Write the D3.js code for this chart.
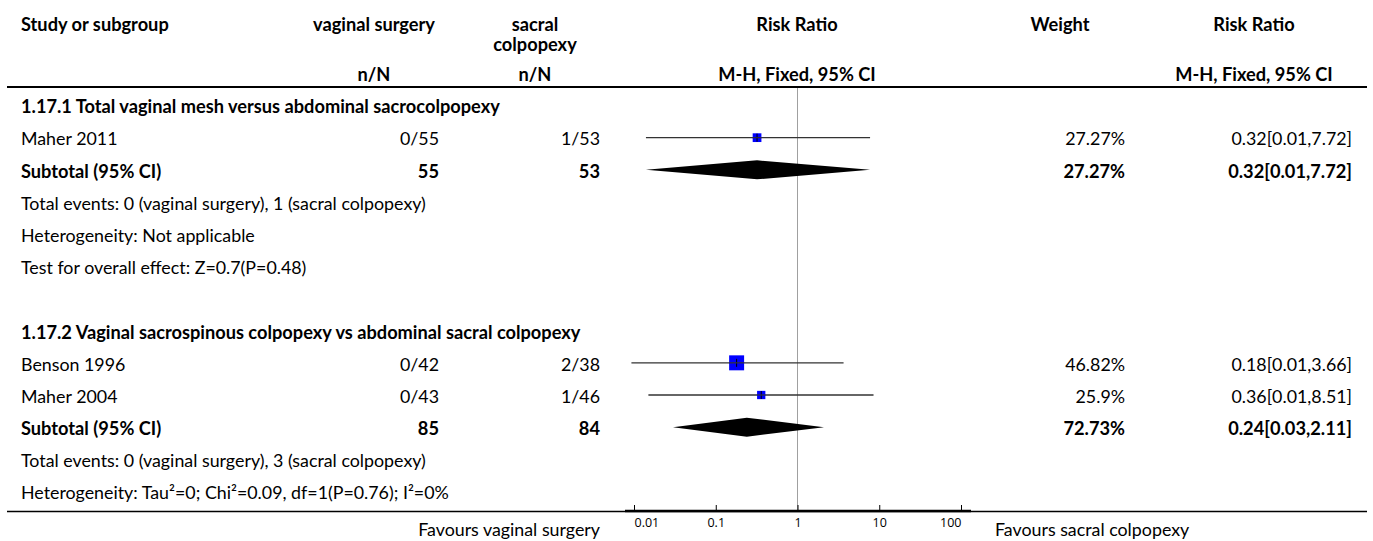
<!DOCTYPE html>
<html>
<head>
<meta charset="utf-8">
<script src="https://cdn.jsdelivr.net/npm/d3@7"></script>
<style>
  html, body { margin: 0; padding: 0; background: #fff; }
  svg { display: block; }
</style>
</head>
<body>
<div id="chart"></div>
<script>
// ---------------- DATA ----------------
const rowText = [
  "1.17.1 Total vaginal mesh versus abdominal sacrocolpopexy",
  "Maher 2011",
  "Subtotal (95% CI)",
  "Total events: 0 (vaginal surgery), 1 (sacral colpopexy)",
  "Heterogeneity: Not applicable",
  "Test for overall effect: Z=0.7(P=0.48)",
  "",
  "1.17.2 Vaginal sacrospinous colpopexy vs abdominal sacral colpopexy",
  "Benson 1996",
  "Maher 2004",
  "Subtotal (95% CI)",
  "Total events: 0 (vaginal surgery), 3 (sacral colpopexy)",
  "Heterogeneity: Tau\u00b2=0; Chi\u00b2=0.09, df=1(P=0.76); I\u00b2=0%"
];
const rowKind = ["group","study","subtotal","note","note","note","blank","group","study","study","subtotal","note","note"];
const expText  = [null,"0/55","55",null,null,null,null,null,"0/42","0/43","85",null,null];
const ctrlText = [null,"1/53","53",null,null,null,null,null,"2/38","1/46","84",null,null];
const rrValue  = [null,0.32,0.32,null,null,null,null,null,0.18,0.36,0.24,null,null];
const ciLow    = [null,0.014,0.014,null,null,null,null,null,0.0093,0.015,0.03,null,null];
const ciHigh   = [null,7.72,7.72,null,null,null,null,null,3.66,8.51,2.11,null,null];
const weightPct = [null,27.27,27.27,null,null,null,null,null,46.82,25.9,72.73,null,null];
const weightText = [null,"27.27%","27.27%",null,null,null,null,null,"46.82%","25.9%","72.73%",null,null];
const rrText   = [null,"0.32[0.01,7.72]","0.32[0.01,7.72]",null,null,null,null,null,"0.18[0.01,3.66]","0.36[0.01,8.51]","0.24[0.03,2.11]",null,null];

const tickValues = [0.01, 0.1, 1, 10, 100];
const tickLabels = ["0.01", "0.1", "1", "10", "100"];
const favoursLeft = "Favours vaginal surgery";
const favoursRight = "Favours sacral colpopexy";

// ---------------- LAYOUT ----------------
const W = 1373, H = 541;
const FONT = "Lato, 'Open Sans', sans-serif";
const TICKFONT = "'Open Sans', sans-serif";

const svg = d3.select("#chart").append("svg")
  .attr("width", W).attr("height", H)
  .attr("viewBox", `0 0 ${W} ${H}`);

// fit font sizes to reference text widths
const probe = svg.append("text").attr("font-family", FONT).attr("font-size", 20).text(rowText[3]);
const FS = 20 * 405 / probe.node().getComputedTextLength();
probe.attr("font-weight", "bold").text(rowText[7]);
const FSB = 20 * 560 / probe.node().getComputedTextLength();
probe.remove();

const leftX = 21;
const col1Center = 374, col1Right = 439;
const col2Center = 535, col2Right = 600;
const rrCenter = 797;
const wCenter = 1060, wRight = 1125;
const rrtCenter = 1254, rrtRight = 1352;

const lineL = 7, lineR = 1367;
const headerLineY = 87;
const axisY = 511;

const rowY = d3.scaleLinear().domain([0, rowText.length - 1]).range([107, 493]);
const x = d3.scaleLog().domain([0.01, 100]).range([634, 961]);
const sizeScale = d3.scaleLinear().domain([0, 100]).range([0, 32]);

function txt(g, xx, yy, s, anchor, bold, fs, fam) {
  return g.append("text")
    .attr("x", xx).attr("y", yy)
    .attr("dy", "0.35em")
    .attr("text-anchor", anchor || "start")
    .attr("font-family", fam || FONT)
    .attr("font-size", fs || (bold ? FSB : FS))
    .attr("font-weight", bold ? "bold" : "normal")
    .attr("fill", "#000")
    .text(s);
}

// ---------------- HEADER ----------------
const head = svg.append("g");
txt(head, leftX, 25, "Study or subgroup", "start", true);
txt(head, col1Center, 25, "vaginal surgery", "middle", true);
txt(head, col2Center, 25, "sacral", "middle", true);
txt(head, col2Center, 45, "colpopexy", "middle", true);
txt(head, rrCenter, 25, "Risk Ratio", "middle", true);
txt(head, wCenter, 25, "Weight", "middle", true);
txt(head, rrtCenter, 25, "Risk Ratio", "middle", true);
txt(head, col1Center, 75, "n/N", "middle", true);
txt(head, col2Center, 75, "n/N", "middle", true);
txt(head, rrCenter, 75, "M-H, Fixed, 95% CI", "middle", true);
txt(head, rrtCenter, 75, "M-H, Fixed, 95% CI", "middle", true);

svg.append("line")
  .attr("x1", lineL).attr("x2", lineR)
  .attr("y1", headerLineY).attr("y2", headerLineY)
  .attr("stroke", "#000").attr("stroke-width", 2);

// vertical no-effect line
svg.append("line")
  .attr("x1", x(1)).attr("x2", x(1))
  .attr("y1", headerLineY + 1).attr("y2", axisY)
  .attr("stroke", "#a0a0a0").attr("stroke-width", 1);

// ---------------- ROWS ----------------
const body = svg.append("g");
rowText.forEach((t, i) => {
  const y = rowY(i);
  const kind = rowKind[i];
  const bold = kind === "group" || kind === "subtotal";
  if (t) txt(body, leftX, y, t, "start", bold);
  if (expText[i]) txt(body, col1Right, y, expText[i], "end", kind === "subtotal");
  if (ctrlText[i]) txt(body, col2Right, y, ctrlText[i], "end", kind === "subtotal");
  if (weightText[i]) txt(body, wRight, y, weightText[i], "end", kind === "subtotal");
  if (rrText[i]) txt(body, rrtRight, y, rrText[i], "end", kind === "subtotal");

  const my = y - 1.5;
  if (kind === "study") {
    body.append("line")
      .attr("x1", x(ciLow[i])).attr("x2", x(ciHigh[i]))
      .attr("y1", my).attr("y2", my)
      .attr("stroke", "#333").attr("stroke-width", 1.3);
    const s = sizeScale(weightPct[i]);
    body.append("rect")
      .attr("x", x(rrValue[i]) - s / 2).attr("y", my - s / 2)
      .attr("width", s).attr("height", s)
      .attr("fill", "#0000ff");
    body.append("line")
      .attr("x1", x(rrValue[i])).attr("x2", x(rrValue[i]))
      .attr("y1", my - 4).attr("y2", my + 4)
      .attr("stroke", "#000").attr("stroke-width", 1);
    body.append("line")
      .attr("x1", x(rrValue[i]) - s / 2).attr("x2", x(rrValue[i]) + s / 2)
      .attr("y1", my).attr("y2", my)
      .attr("stroke", "#333").attr("stroke-width", 1.2);
  } else if (kind === "subtotal") {
    const pts = [
      [x(ciLow[i]), my],
      [x(rrValue[i]), my - 9.5],
      [x(ciHigh[i]), my],
      [x(rrValue[i]), my + 9.5]
    ];
    body.append("path")
      .attr("d", d3.line()(pts) + "Z")
      .attr("fill", "#000");
  }
});

// ---------------- AXIS ----------------
svg.append("line")
  .attr("x1", lineL).attr("x2", lineR)
  .attr("y1", axisY + 0.5).attr("y2", axisY + 0.5)
  .attr("stroke", "#000").attr("stroke-width", 1.5);
svg.append("line")
  .attr("x1", x.range()[0] - 9).attr("x2", x.range()[1] + 10)
  .attr("y1", axisY).attr("y2", axisY)
  .attr("stroke", "#000").attr("stroke-width", 2.5);

const axis = d3.axisBottom(x)
  .tickValues(tickValues)
  .tickFormat((d, i) => tickLabels[i])
  .tickSize(-6)
  .tickPadding(14);
const ag = svg.append("g").attr("transform", `translate(0,${axisY})`).call(axis);
ag.select(".domain").remove();
ag.selectAll(".tick line").attr("stroke", "#000").attr("stroke-width", 1);
ag.selectAll(".tick text")
  .attr("font-family", TICKFONT)
  .attr("font-size", 12.5)
  .attr("fill", "#000")
  .attr("y", 12)
  .attr("dy", "0.35em")
  .attr("text-anchor", (d, i) => i === 0 ? "start" : (i === tickValues.length - 1 ? "end" : "middle"));

txt(svg, x.range()[0] - 34, 530, favoursLeft, "end", false);
txt(svg, x.range()[1] + 34, 530, favoursRight, "start", false);
</script>
</body>
</html>
